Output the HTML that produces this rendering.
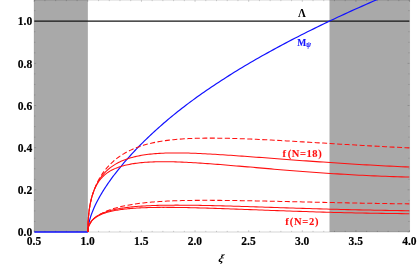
<!DOCTYPE html>
<html><head><meta charset="utf-8"><title>plot</title>
<style>
html,body{margin:0;padding:0;background:#fff;}
body{width:417px;height:266px;overflow:hidden;}
svg{display:block;will-change:transform;}
text{font-family:"Liberation Serif",serif;font-weight:bold;}
</style></head><body>
<svg width="417" height="266" viewBox="0 0 417 266">
<rect x="0" y="0" width="417" height="266" fill="#fff"/>
<defs><clipPath id="c"><rect x="34.2" y="0" width="375.35" height="232.90"/></clipPath></defs>
<rect x="34.2" y="0" width="53.65" height="232.0" fill="#a9a9a9"/>
<rect x="329.5" y="0" width="80.05" height="232.0" fill="#a9a9a9"/>
<g stroke="#000" stroke-width="0.17" fill="none">
<path d="M34.2,232.0 H409.55 M34.2,0.0 H409.55 M34.2,0.0 V232.0 M409.55,0.0 V232.0"/>
<path d="M34.20,232.0 v-2.0 M34.20,0.0 v2.0 M44.92,232.0 v-1.2 M44.92,0.0 v1.2 M55.65,232.0 v-1.2 M55.65,0.0 v1.2 M66.37,232.0 v-1.2 M66.37,0.0 v1.2 M77.10,232.0 v-1.2 M77.10,0.0 v1.2 M87.82,232.0 v-2.0 M87.82,0.0 v2.0 M98.55,232.0 v-1.2 M98.55,0.0 v1.2 M109.27,232.0 v-1.2 M109.27,0.0 v1.2 M119.99,232.0 v-1.2 M119.99,0.0 v1.2 M130.72,232.0 v-1.2 M130.72,0.0 v1.2 M141.44,232.0 v-2.0 M141.44,0.0 v2.0 M152.17,232.0 v-1.2 M152.17,0.0 v1.2 M162.89,232.0 v-1.2 M162.89,0.0 v1.2 M173.62,232.0 v-1.2 M173.62,0.0 v1.2 M184.34,232.0 v-1.2 M184.34,0.0 v1.2 M195.06,232.0 v-2.0 M195.06,0.0 v2.0 M205.79,232.0 v-1.2 M205.79,0.0 v1.2 M216.51,232.0 v-1.2 M216.51,0.0 v1.2 M227.24,232.0 v-1.2 M227.24,0.0 v1.2 M237.96,232.0 v-1.2 M237.96,0.0 v1.2 M248.69,232.0 v-2.0 M248.69,0.0 v2.0 M259.41,232.0 v-1.2 M259.41,0.0 v1.2 M270.13,232.0 v-1.2 M270.13,0.0 v1.2 M280.86,232.0 v-1.2 M280.86,0.0 v1.2 M291.58,232.0 v-1.2 M291.58,0.0 v1.2 M302.31,232.0 v-2.0 M302.31,0.0 v2.0 M313.03,232.0 v-1.2 M313.03,0.0 v1.2 M323.76,232.0 v-1.2 M323.76,0.0 v1.2 M334.48,232.0 v-1.2 M334.48,0.0 v1.2 M345.20,232.0 v-1.2 M345.20,0.0 v1.2 M355.93,232.0 v-2.0 M355.93,0.0 v2.0 M366.65,232.0 v-1.2 M366.65,0.0 v1.2 M377.38,232.0 v-1.2 M377.38,0.0 v1.2 M388.10,232.0 v-1.2 M388.10,0.0 v1.2 M398.83,232.0 v-1.2 M398.83,0.0 v1.2 M409.55,232.0 v-2.0 M409.55,0.0 v2.0 M34.2,232.00 h2.0 M409.55,232.00 h-2.0 M34.2,221.46 h1.2 M409.55,221.46 h-1.2 M34.2,210.92 h1.2 M409.55,210.92 h-1.2 M34.2,200.38 h1.2 M409.55,200.38 h-1.2 M34.2,189.84 h2.0 M409.55,189.84 h-2.0 M34.2,179.30 h1.2 M409.55,179.30 h-1.2 M34.2,168.76 h1.2 M409.55,168.76 h-1.2 M34.2,158.22 h1.2 M409.55,158.22 h-1.2 M34.2,147.68 h2.0 M409.55,147.68 h-2.0 M34.2,137.14 h1.2 M409.55,137.14 h-1.2 M34.2,126.60 h1.2 M409.55,126.60 h-1.2 M34.2,116.06 h1.2 M409.55,116.06 h-1.2 M34.2,105.52 h2.0 M409.55,105.52 h-2.0 M34.2,94.98 h1.2 M409.55,94.98 h-1.2 M34.2,84.44 h1.2 M409.55,84.44 h-1.2 M34.2,73.90 h1.2 M409.55,73.90 h-1.2 M34.2,63.36 h2.0 M409.55,63.36 h-2.0 M34.2,52.82 h1.2 M409.55,52.82 h-1.2 M34.2,42.28 h1.2 M409.55,42.28 h-1.2 M34.2,31.74 h1.2 M409.55,31.74 h-1.2 M34.2,21.20 h2.0 M409.55,21.20 h-2.0 M34.2,10.66 h1.2 M409.55,10.66 h-1.2 M34.2,0.12 h1.2 M409.55,0.12 h-1.2"/>
</g>
<g clip-path="url(#c)" fill="none" stroke-linejoin="round">
<path d="M34.2,21.1 H409.55" stroke="#151515" stroke-width="1.1"/>
<path d="M34.2,232.0 H87.90" stroke="#1212ff" stroke-width="1.4"/>
<path d="M87.90,231.90 L87.91,231.01 L87.95,230.11 L88.01,229.19 L88.09,228.25 L88.20,227.30 L88.33,226.33 L88.48,225.34 L88.66,224.34 L88.86,223.32 L89.09,222.29 L89.34,221.24 L89.61,220.18 L89.91,219.10 L90.23,218.01 L90.57,216.90 L90.94,215.78 L91.33,214.65 L91.75,213.50 L92.19,212.34 L92.65,211.16 L93.14,209.97 L93.65,208.77 L94.18,207.56 L94.74,206.33 L95.32,205.09 L95.93,203.83 L96.56,202.57 L97.21,201.29 L97.89,200.01 L98.59,198.70 L99.31,197.39 L100.06,196.07 L100.83,194.74 L101.63,193.39 L102.44,192.04 L103.29,190.67 L104.15,189.30 L105.04,187.91 L105.96,186.51 L106.90,185.11 L107.86,183.69 L108.84,182.27 L109.85,180.83 L110.89,179.39 L111.94,177.94 L113.02,176.48 L114.13,175.01 L115.26,173.53 L116.41,172.05 L117.58,170.55 L118.78,169.05 L120.00,167.54 L121.25,166.03 L122.52,164.51 L123.82,162.98 L125.13,161.44 L126.48,159.90 L127.84,158.35 L129.23,156.79 L130.64,155.23 L132.08,153.67 L133.54,152.09 L135.02,150.51 L136.53,148.93 L138.06,147.34 L139.62,145.75 L141.20,144.15 L142.80,142.55 L144.43,140.94 L146.08,139.33 L147.75,137.72 L149.45,136.10 L151.17,134.48 L152.92,132.86 L154.69,131.23 L156.48,129.60 L158.29,127.97 L160.14,126.34 L162.00,124.71 L163.89,123.07 L165.80,121.43 L167.73,119.79 L169.69,118.15 L171.68,116.51 L173.68,114.87 L175.71,113.23 L177.77,111.59 L179.84,109.95 L181.95,108.31 L184.07,106.67 L186.22,105.03 L188.39,103.39 L190.59,101.76 L192.81,100.12 L195.05,98.48 L197.32,96.84 L199.61,95.21 L201.93,93.57 L204.27,91.94 L206.63,90.30 L209.02,88.67 L211.43,87.04 L213.86,85.40 L216.32,83.77 L218.80,82.14 L221.30,80.51 L223.83,78.88 L226.39,77.25 L228.96,75.62 L231.56,73.99 L234.19,72.36 L236.83,70.73 L239.51,69.10 L242.20,67.47 L244.92,65.85 L247.66,64.22 L250.43,62.60 L253.22,60.97 L256.03,59.35 L258.87,57.72 L261.73,56.10 L264.62,54.48 L267.53,52.86 L270.46,51.23 L273.41,49.61 L276.39,47.99 L279.40,46.37 L282.43,44.75 L285.48,43.14 L288.55,41.52 L291.65,39.90 L294.77,38.28 L297.92,36.67 L301.09,35.05 L304.28,33.44 L307.50,31.82 L310.74,30.21 L314.01,28.60 L317.30,26.98 L320.61,25.37 L323.95,23.76 L327.31,22.15 L330.69,20.54 L334.10,18.93 L337.53,17.32 L340.98,15.71 L344.46,14.11 L347.97,12.50 L351.49,10.89 L355.04,9.29 L358.62,7.68 L362.21,6.08 L365.83,4.47 L369.48,2.87 L373.15,1.27 L376.84,-0.33 L380.56,-1.93 L384.30,-3.53 L388.06,-5.13" stroke="#1212ff" stroke-width="1.2"/>
<g stroke="#ff1010" stroke-width="1.05">
<path d="M87.90,231.90 L87.91,229.50 L87.95,227.15 L88.01,224.85 L88.10,222.60 L88.22,220.41 L88.36,218.26 L88.52,216.16 L88.71,214.12 L88.93,212.12 L89.17,210.17 L89.44,208.27 L89.73,206.41 L90.05,204.61 L90.39,202.85 L90.76,201.14 L91.16,199.47 L91.58,197.85 L92.02,196.27 L92.49,194.74 L92.99,193.26 L93.51,191.82 L94.06,190.42 L94.63,189.06 L95.23,187.75 L95.85,186.48 L96.50,185.25 L97.17,184.06 L97.87,182.92 L98.60,181.81 L99.35,180.75 L100.12,179.72 L100.93,178.74 L101.75,177.79 L102.61,176.88 L103.48,176.01 L104.39,175.18 L105.32,174.38 L106.27,173.62 L107.25,172.89 L108.25,172.19 L109.28,171.53 L110.34,170.89 L111.42,170.29 L112.53,169.71 L113.66,169.16 L114.82,168.64 L116.00,168.14 L117.21,167.67 L118.44,167.23 L119.70,166.80 L120.99,166.40 L122.30,166.02 L123.63,165.65 L124.99,165.31 L126.38,164.99 L127.79,164.68 L129.23,164.39 L130.69,164.11 L132.18,163.85 L133.70,163.61 L135.23,163.38 L136.80,163.17 L138.39,162.98 L140.01,162.79 L141.65,162.63 L143.31,162.48 L145.00,162.34 L146.72,162.22 L148.46,162.11 L150.23,162.01 L152.03,161.93 L153.85,161.86 L155.69,161.80 L157.56,161.76 L159.46,161.72 L161.38,161.70 L163.32,161.69 L165.29,161.70 L167.29,161.71 L169.31,161.74 L171.36,161.77 L173.44,161.82 L175.54,161.88 L177.66,161.94 L179.81,162.02 L181.98,162.11 L184.19,162.20 L186.41,162.31 L188.66,162.42 L190.94,162.54 L193.24,162.67 L195.57,162.81 L197.92,162.95 L200.30,163.11 L202.71,163.27 L205.14,163.43 L207.59,163.61 L210.07,163.79 L212.58,163.98 L215.11,164.17 L217.67,164.37 L220.25,164.57 L222.86,164.78 L225.49,164.99 L228.15,165.21 L230.83,165.44 L233.54,165.66 L236.28,165.90 L239.04,166.13 L241.82,166.37 L244.64,166.61 L247.47,166.86 L250.33,167.10 L253.22,167.35 L256.14,167.61 L259.07,167.86 L262.04,168.12 L265.03,168.37 L268.04,168.63 L271.08,168.89 L274.15,169.15 L277.24,169.41 L280.36,169.67 L283.50,169.93 L286.67,170.20 L289.86,170.46 L293.08,170.71 L296.32,170.97 L299.59,171.23 L302.89,171.48 L306.21,171.74 L309.55,171.99 L312.92,172.24 L316.32,172.48 L319.74,172.73 L323.19,172.97 L326.66,173.21 L330.16,173.44 L333.68,173.67 L337.23,173.89 L340.81,174.12 L344.41,174.33 L348.03,174.55 L351.68,174.75 L355.36,174.95 L359.06,175.15 L362.79,175.34 L366.54,175.52 L370.32,175.70 L374.12,175.87 L377.95,176.04 L381.81,176.19 L385.69,176.34 L389.59,176.49 L393.52,176.62 L397.48,176.75 L401.46,176.86 L405.47,176.97 L409.50,177.07"/>
<path d="M87.90,231.90 L87.91,229.57 L87.95,227.28 L88.01,225.03 L88.10,222.83 L88.22,220.67 L88.36,218.56 L88.52,216.49 L88.71,214.46 L88.93,212.47 L89.17,210.52 L89.44,208.62 L89.73,206.75 L90.05,204.93 L90.39,203.14 L90.76,201.40 L91.16,199.69 L91.58,198.02 L92.02,196.39 L92.49,194.80 L92.99,193.25 L93.51,191.73 L94.06,190.25 L94.63,188.80 L95.23,187.39 L95.85,186.02 L96.50,184.68 L97.17,183.38 L97.87,182.10 L98.60,180.87 L99.35,179.66 L100.12,178.49 L100.93,177.35 L101.75,176.25 L102.61,175.17 L103.48,174.13 L104.39,173.12 L105.32,172.13 L106.27,171.18 L107.25,170.26 L108.25,169.37 L109.28,168.50 L110.34,167.66 L111.42,166.86 L112.53,166.07 L113.66,165.32 L114.82,164.59 L116.00,163.89 L117.21,163.22 L118.44,162.57 L119.70,161.94 L120.99,161.35 L122.30,160.77 L123.63,160.22 L124.99,159.69 L126.38,159.19 L127.79,158.70 L129.23,158.24 L130.69,157.81 L132.18,157.39 L133.70,156.99 L135.23,156.62 L136.80,156.27 L138.39,155.93 L140.01,155.62 L141.65,155.32 L143.31,155.05 L145.00,154.79 L146.72,154.55 L148.46,154.33 L150.23,154.13 L152.03,153.94 L153.85,153.77 L155.69,153.62 L157.56,153.48 L159.46,153.36 L161.38,153.25 L163.32,153.16 L165.29,153.08 L167.29,153.02 L169.31,152.97 L171.36,152.94 L173.44,152.91 L175.54,152.90 L177.66,152.91 L179.81,152.92 L181.98,152.95 L184.19,152.99 L186.41,153.03 L188.66,153.09 L190.94,153.16 L193.24,153.24 L195.57,153.33 L197.92,153.43 L200.30,153.53 L202.71,153.65 L205.14,153.77 L207.59,153.90 L210.07,154.04 L212.58,154.18 L215.11,154.33 L217.67,154.49 L220.25,154.65 L222.86,154.81 L225.49,154.99 L228.15,155.16 L230.83,155.35 L233.54,155.53 L236.28,155.72 L239.04,155.92 L241.82,156.12 L244.64,156.32 L247.47,156.52 L250.33,156.73 L253.22,156.95 L256.14,157.16 L259.07,157.38 L262.04,157.60 L265.03,157.83 L268.04,158.05 L271.08,158.28 L274.15,158.51 L277.24,158.74 L280.36,158.98 L283.50,159.21 L286.67,159.45 L289.86,159.69 L293.08,159.93 L296.32,160.17 L299.59,160.41 L302.89,160.65 L306.21,160.89 L309.55,161.13 L312.92,161.38 L316.32,161.62 L319.74,161.86 L323.19,162.10 L326.66,162.34 L330.16,162.58 L333.68,162.82 L337.23,163.05 L340.81,163.29 L344.41,163.52 L348.03,163.75 L351.68,163.98 L355.36,164.21 L359.06,164.43 L362.79,164.66 L366.54,164.88 L370.32,165.09 L374.12,165.31 L377.95,165.52 L381.81,165.73 L385.69,165.93 L389.59,166.13 L393.52,166.33 L397.48,166.52 L401.46,166.71 L405.47,166.89 L409.50,167.07"/>
<path d="M87.90,231.90 L87.91,229.60 L87.95,227.34 L88.01,225.12 L88.10,222.95 L88.22,220.82 L88.36,218.73 L88.52,216.69 L88.71,214.68 L88.93,212.71 L89.17,210.78 L89.44,208.88 L89.73,207.02 L90.05,205.20 L90.39,203.41 L90.76,201.65 L91.16,199.92 L91.58,198.22 L92.02,196.55 L92.49,194.91 L92.99,193.30 L93.51,191.72 L94.06,190.16 L94.63,188.63 L95.23,187.12 L95.85,185.64 L96.50,184.19 L97.17,182.76 L97.87,181.35 L98.60,179.97 L99.35,178.61 L100.12,177.28 L100.93,175.96 L101.75,174.67 L102.61,173.41 L103.48,172.16 L104.39,170.94 L105.32,169.74 L106.27,168.57 L107.25,167.42 L108.25,166.29 L109.28,165.19 L110.34,164.11 L111.42,163.05 L112.53,162.02 L113.66,161.01 L114.82,160.03 L116.00,159.07 L117.21,158.14 L118.44,157.23 L119.70,156.34 L120.99,155.48 L122.30,154.64 L123.63,153.83 L124.99,153.04 L126.38,152.27 L127.79,151.53 L129.23,150.81 L130.69,150.11 L132.18,149.43 L133.70,148.78 L135.23,148.15 L136.80,147.54 L138.39,146.96 L140.01,146.39 L141.65,145.85 L143.31,145.33 L145.00,144.83 L146.72,144.34 L148.46,143.89 L150.23,143.45 L152.03,143.03 L153.85,142.63 L155.69,142.25 L157.56,141.89 L159.46,141.55 L161.38,141.23 L163.32,140.93 L165.29,140.64 L167.29,140.37 L169.31,140.12 L171.36,139.89 L173.44,139.68 L175.54,139.47 L177.66,139.29 L179.81,139.12 L181.98,138.97 L184.19,138.83 L186.41,138.70 L188.66,138.59 L190.94,138.49 L193.24,138.40 L195.57,138.33 L197.92,138.26 L200.30,138.21 L202.71,138.17 L205.14,138.14 L207.59,138.13 L210.07,138.12 L212.58,138.12 L215.11,138.13 L217.67,138.15 L220.25,138.18 L222.86,138.22 L225.49,138.27 L228.15,138.32 L230.83,138.39 L233.54,138.46 L236.28,138.54 L239.04,138.63 L241.82,138.73 L244.64,138.83 L247.47,138.94 L250.33,139.06 L253.22,139.18 L256.14,139.31 L259.07,139.45 L262.04,139.59 L265.03,139.73 L268.04,139.89 L271.08,140.05 L274.15,140.21 L277.24,140.38 L280.36,140.55 L283.50,140.73 L286.67,140.91 L289.86,141.09 L293.08,141.28 L296.32,141.47 L299.59,141.67 L302.89,141.86 L306.21,142.07 L309.55,142.27 L312.92,142.47 L316.32,142.68 L319.74,142.89 L323.19,143.10 L326.66,143.31 L330.16,143.53 L333.68,143.74 L337.23,143.96 L340.81,144.17 L344.41,144.39 L348.03,144.60 L351.68,144.82 L355.36,145.03 L359.06,145.25 L362.79,145.46 L366.54,145.68 L370.32,145.89 L374.12,146.10 L377.95,146.30 L381.81,146.51 L385.69,146.71 L389.59,146.91 L393.52,147.11 L397.48,147.31 L401.46,147.50 L405.47,147.69 L409.50,147.87" stroke-dasharray="5 2.5" stroke-dashoffset="1.18"/>
<path d="M87.90,231.90 L87.91,231.16 L87.95,230.43 L88.01,229.72 L88.10,229.02 L88.22,228.33 L88.36,227.66 L88.52,227.00 L88.71,226.36 L88.93,225.72 L89.17,225.10 L89.44,224.50 L89.73,223.90 L90.05,223.32 L90.39,222.76 L90.76,222.20 L91.16,221.66 L91.58,221.13 L92.02,220.61 L92.49,220.10 L92.99,219.61 L93.51,219.12 L94.06,218.65 L94.63,218.19 L95.23,217.75 L95.85,217.31 L96.50,216.88 L97.17,216.47 L97.87,216.06 L98.60,215.67 L99.35,215.29 L100.12,214.92 L100.93,214.56 L101.75,214.21 L102.61,213.87 L103.48,213.54 L104.39,213.22 L105.32,212.91 L106.27,212.61 L107.25,212.32 L108.25,212.04 L109.28,211.77 L110.34,211.51 L111.42,211.25 L112.53,211.01 L113.66,210.78 L114.82,210.55 L116.00,210.33 L117.21,210.13 L118.44,209.93 L119.70,209.74 L120.99,209.55 L122.30,209.38 L123.63,209.21 L124.99,209.06 L126.38,208.90 L127.79,208.76 L129.23,208.63 L130.69,208.50 L132.18,208.38 L133.70,208.27 L135.23,208.16 L136.80,208.06 L138.39,207.97 L140.01,207.89 L141.65,207.81 L143.31,207.74 L145.00,207.67 L146.72,207.61 L148.46,207.56 L150.23,207.51 L152.03,207.47 L153.85,207.44 L155.69,207.41 L157.56,207.38 L159.46,207.37 L161.38,207.35 L163.32,207.35 L165.29,207.34 L167.29,207.35 L169.31,207.36 L171.36,207.37 L173.44,207.39 L175.54,207.41 L177.66,207.44 L179.81,207.47 L181.98,207.50 L184.19,207.54 L186.41,207.59 L188.66,207.63 L190.94,207.68 L193.24,207.74 L195.57,207.80 L197.92,207.86 L200.30,207.92 L202.71,207.99 L205.14,208.06 L207.59,208.14 L210.07,208.22 L212.58,208.30 L215.11,208.38 L217.67,208.46 L220.25,208.55 L222.86,208.64 L225.49,208.73 L228.15,208.83 L230.83,208.92 L233.54,209.02 L236.28,209.12 L239.04,209.22 L241.82,209.32 L244.64,209.43 L247.47,209.53 L250.33,209.64 L253.22,209.74 L256.14,209.85 L259.07,209.96 L262.04,210.07 L265.03,210.18 L268.04,210.29 L271.08,210.40 L274.15,210.51 L277.24,210.62 L280.36,210.73 L283.50,210.84 L286.67,210.95 L289.86,211.06 L293.08,211.17 L296.32,211.28 L299.59,211.39 L302.89,211.50 L306.21,211.60 L309.55,211.71 L312.92,211.81 L316.32,211.91 L319.74,212.01 L323.19,212.11 L326.66,212.21 L330.16,212.31 L333.68,212.40 L337.23,212.49 L340.81,212.58 L344.41,212.67 L348.03,212.75 L351.68,212.84 L355.36,212.92 L359.06,212.99 L362.79,213.07 L366.54,213.14 L370.32,213.21 L374.12,213.27 L377.95,213.33 L381.81,213.39 L385.69,213.45 L389.59,213.50 L393.52,213.54 L397.48,213.59 L401.46,213.63 L405.47,213.66 L409.50,213.69"/>
<path d="M87.90,231.90 L87.91,231.15 L87.95,230.42 L88.01,229.70 L88.10,228.99 L88.22,228.29 L88.36,227.61 L88.52,226.94 L88.71,226.28 L88.93,225.64 L89.17,225.00 L89.44,224.38 L89.73,223.77 L90.05,223.18 L90.39,222.59 L90.76,222.02 L91.16,221.45 L91.58,220.90 L92.02,220.36 L92.49,219.83 L92.99,219.32 L93.51,218.81 L94.06,218.32 L94.63,217.83 L95.23,217.36 L95.85,216.90 L96.50,216.45 L97.17,216.01 L97.87,215.58 L98.60,215.16 L99.35,214.75 L100.12,214.35 L100.93,213.96 L101.75,213.58 L102.61,213.21 L103.48,212.85 L104.39,212.50 L105.32,212.16 L106.27,211.82 L107.25,211.50 L108.25,211.19 L109.28,210.89 L110.34,210.59 L111.42,210.31 L112.53,210.03 L113.66,209.76 L114.82,209.50 L116.00,209.25 L117.21,209.01 L118.44,208.78 L119.70,208.55 L120.99,208.34 L122.30,208.13 L123.63,207.93 L124.99,207.73 L126.38,207.55 L127.79,207.37 L129.23,207.20 L130.69,207.04 L132.18,206.89 L133.70,206.74 L135.23,206.60 L136.80,206.47 L138.39,206.34 L140.01,206.22 L141.65,206.11 L143.31,206.00 L145.00,205.90 L146.72,205.81 L148.46,205.73 L150.23,205.65 L152.03,205.57 L153.85,205.51 L155.69,205.45 L157.56,205.39 L159.46,205.34 L161.38,205.30 L163.32,205.26 L165.29,205.23 L167.29,205.20 L169.31,205.18 L171.36,205.16 L173.44,205.15 L175.54,205.14 L177.66,205.14 L179.81,205.15 L181.98,205.15 L184.19,205.16 L186.41,205.18 L188.66,205.20 L190.94,205.23 L193.24,205.25 L195.57,205.29 L197.92,205.32 L200.30,205.36 L202.71,205.41 L205.14,205.46 L207.59,205.51 L210.07,205.56 L212.58,205.62 L215.11,205.68 L217.67,205.74 L220.25,205.81 L222.86,205.88 L225.49,205.95 L228.15,206.02 L230.83,206.10 L233.54,206.18 L236.28,206.26 L239.04,206.34 L241.82,206.42 L244.64,206.51 L247.47,206.60 L250.33,206.69 L253.22,206.78 L256.14,206.87 L259.07,206.97 L262.04,207.06 L265.03,207.16 L268.04,207.26 L271.08,207.36 L274.15,207.46 L277.24,207.56 L280.36,207.66 L283.50,207.76 L286.67,207.86 L289.86,207.96 L293.08,208.06 L296.32,208.16 L299.59,208.27 L302.89,208.37 L306.21,208.47 L309.55,208.57 L312.92,208.67 L316.32,208.77 L319.74,208.87 L323.19,208.96 L326.66,209.06 L330.16,209.16 L333.68,209.25 L337.23,209.34 L340.81,209.43 L344.41,209.52 L348.03,209.61 L351.68,209.70 L355.36,209.78 L359.06,209.87 L362.79,209.95 L366.54,210.03 L370.32,210.10 L374.12,210.18 L377.95,210.25 L381.81,210.32 L385.69,210.38 L389.59,210.45 L393.52,210.51 L397.48,210.56 L401.46,210.62 L405.47,210.67 L409.50,210.71"/>
<path d="M87.90,231.90 L87.91,231.23 L87.95,230.57 L88.01,229.91 L88.10,229.26 L88.22,228.61 L88.36,227.98 L88.52,227.35 L88.71,226.72 L88.93,226.10 L89.17,225.49 L89.44,224.89 L89.73,224.29 L90.05,223.70 L90.39,223.12 L90.76,222.54 L91.16,221.97 L91.58,221.41 L92.02,220.85 L92.49,220.30 L92.99,219.76 L93.51,219.22 L94.06,218.70 L94.63,218.17 L95.23,217.66 L95.85,217.15 L96.50,216.65 L97.17,216.16 L97.87,215.68 L98.60,215.20 L99.35,214.73 L100.12,214.27 L100.93,213.81 L101.75,213.36 L102.61,212.92 L103.48,212.49 L104.39,212.06 L105.32,211.65 L106.27,211.24 L107.25,210.83 L108.25,210.44 L109.28,210.05 L110.34,209.67 L111.42,209.30 L112.53,208.94 L113.66,208.58 L114.82,208.23 L116.00,207.89 L117.21,207.56 L118.44,207.23 L119.70,206.92 L120.99,206.61 L122.30,206.31 L123.63,206.01 L124.99,205.73 L126.38,205.45 L127.79,205.18 L129.23,204.92 L130.69,204.66 L132.18,204.41 L133.70,204.17 L135.23,203.94 L136.80,203.72 L138.39,203.50 L140.01,203.30 L141.65,203.10 L143.31,202.90 L145.00,202.72 L146.72,202.54 L148.46,202.38 L150.23,202.22 L152.03,202.06 L153.85,201.92 L155.69,201.78 L157.56,201.65 L159.46,201.53 L161.38,201.41 L163.32,201.30 L165.29,201.20 L167.29,201.10 L169.31,201.01 L171.36,200.92 L173.44,200.85 L175.54,200.77 L177.66,200.71 L179.81,200.65 L181.98,200.59 L184.19,200.55 L186.41,200.50 L188.66,200.46 L190.94,200.43 L193.24,200.40 L195.57,200.38 L197.92,200.36 L200.30,200.35 L202.71,200.34 L205.14,200.34 L207.59,200.34 L210.07,200.34 L212.58,200.35 L215.11,200.36 L217.67,200.37 L220.25,200.39 L222.86,200.42 L225.49,200.44 L228.15,200.47 L230.83,200.50 L233.54,200.54 L236.28,200.58 L239.04,200.62 L241.82,200.66 L244.64,200.71 L247.47,200.75 L250.33,200.81 L253.22,200.86 L256.14,200.91 L259.07,200.97 L262.04,201.03 L265.03,201.09 L268.04,201.15 L271.08,201.21 L274.15,201.28 L277.24,201.34 L280.36,201.41 L283.50,201.48 L286.67,201.55 L289.86,201.62 L293.08,201.69 L296.32,201.76 L299.59,201.84 L302.89,201.91 L306.21,201.99 L309.55,202.06 L312.92,202.13 L316.32,202.21 L319.74,202.29 L323.19,202.36 L326.66,202.44 L330.16,202.51 L333.68,202.59 L337.23,202.66 L340.81,202.73 L344.41,202.81 L348.03,202.88 L351.68,202.95 L355.36,203.02 L359.06,203.09 L362.79,203.16 L366.54,203.23 L370.32,203.30 L374.12,203.36 L377.95,203.43 L381.81,203.49 L385.69,203.55 L389.59,203.61 L393.52,203.67 L397.48,203.73 L401.46,203.78 L405.47,203.83 L409.50,203.88" stroke-dasharray="5 2.5" stroke-dashoffset="0.95"/>
</g>
</g>
<g><text transform="translate(34.05,245.00) scale(1.03,1.12)" font-size="11.2px" text-anchor="middle" fill="#000" stroke="#000" stroke-width="0.15">0.5</text><text transform="translate(87.67,245.00) scale(1.03,1.12)" font-size="11.2px" text-anchor="middle" fill="#000" stroke="#000" stroke-width="0.15">1.0</text><text transform="translate(141.29,245.00) scale(1.03,1.12)" font-size="11.2px" text-anchor="middle" fill="#000" stroke="#000" stroke-width="0.15">1.5</text><text transform="translate(194.91,245.00) scale(1.03,1.12)" font-size="11.2px" text-anchor="middle" fill="#000" stroke="#000" stroke-width="0.15">2.0</text><text transform="translate(248.54,245.00) scale(1.03,1.12)" font-size="11.2px" text-anchor="middle" fill="#000" stroke="#000" stroke-width="0.15">2.5</text><text transform="translate(302.16,245.00) scale(1.03,1.12)" font-size="11.2px" text-anchor="middle" fill="#000" stroke="#000" stroke-width="0.15">3.0</text><text transform="translate(355.78,245.00) scale(1.03,1.12)" font-size="11.2px" text-anchor="middle" fill="#000" stroke="#000" stroke-width="0.15">3.5</text><text transform="translate(409.40,245.00) scale(1.03,1.12)" font-size="11.2px" text-anchor="middle" fill="#000" stroke="#000" stroke-width="0.15">4.0</text><text transform="translate(32.20,236.25) scale(1.035,1.12)" font-size="11.2px" text-anchor="end" fill="#000" stroke="#000" stroke-width="0.15">0.0</text><text transform="translate(32.20,194.09) scale(1.035,1.12)" font-size="11.2px" text-anchor="end" fill="#000" stroke="#000" stroke-width="0.15">0.2</text><text transform="translate(32.20,151.93) scale(1.035,1.12)" font-size="11.2px" text-anchor="end" fill="#000" stroke="#000" stroke-width="0.15">0.4</text><text transform="translate(32.20,109.77) scale(1.035,1.12)" font-size="11.2px" text-anchor="end" fill="#000" stroke="#000" stroke-width="0.15">0.6</text><text transform="translate(32.20,67.61) scale(1.035,1.12)" font-size="11.2px" text-anchor="end" fill="#000" stroke="#000" stroke-width="0.15">0.8</text><text transform="translate(32.20,25.45) scale(1.035,1.12)" font-size="11.2px" text-anchor="end" fill="#000" stroke="#000" stroke-width="0.15">1.0</text></g>
<text transform="translate(302.00,16.90) scale(1,1.1)" font-size="11px" text-anchor="middle" fill="#000">&#923;</text><text transform="translate(297.20,45.70) scale(0.93,1.05)" font-size="10.3px" text-anchor="start" fill="#1212ff" stroke="#1212ff" stroke-width="0.1">M<tspan font-size="7.6px" font-style="italic" dy="1.0">&#968;</tspan></text><text transform="translate(282.40,157.00) scale(1,1.03)" font-size="10.5px" text-anchor="start" fill="#ff1010" stroke="#ff1010" stroke-width="0.1">f<tspan dx="1.8" letter-spacing="0.6">(N=18)</tspan></text><text transform="translate(285.30,225.00) scale(1,1.03)" font-size="10.5px" text-anchor="start" fill="#ff1010" stroke="#ff1010" stroke-width="0.1">f<tspan dx="0.9" letter-spacing="0.75">(N=2)</tspan></text><text transform="translate(220.50,262.30) scale(1.1,1) skewX(-14)" font-size="10.8px" text-anchor="middle" fill="#000" font-style="italic">&#958;</text>
</svg>
</body></html>
